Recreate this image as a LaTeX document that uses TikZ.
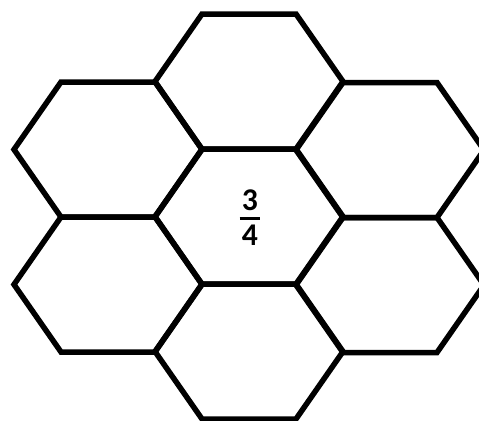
\documentclass[tikz,border=0pt]{standalone}
\usepackage{fontspec}
\setmainfont{Carlito}

\begin{document}
\begin{tikzpicture}[x=0.02cm,y=-0.02cm]
\useasboundingbox (0,0) rectangle (479,420);
\clip (0,0) rectangle (479,420);
\foreach \cx/\cy in {249/216.5, 249/81.5, 249/351.5, 108/149.5, 108/284.5, 390/150, 390/285}
  \draw[line width=0.11cm] (\cx-94,\cy) -- (\cx-47,\cy-67.5) -- (\cx+47,\cy-67.5) -- (\cx+94,\cy) -- (\cx+47,\cy+67.5) -- (\cx-47,\cy+67.5) -- cycle;
\node[font=\bfseries\fontsize{18}{20}\selectfont, align=center, inner xsep=0.04cm, inner ysep=0pt] (frac) at (250,218) {3\\4};
\draw[line width=1.7pt] (frac.west) -- (frac.east);
\end{tikzpicture}
\end{document}
